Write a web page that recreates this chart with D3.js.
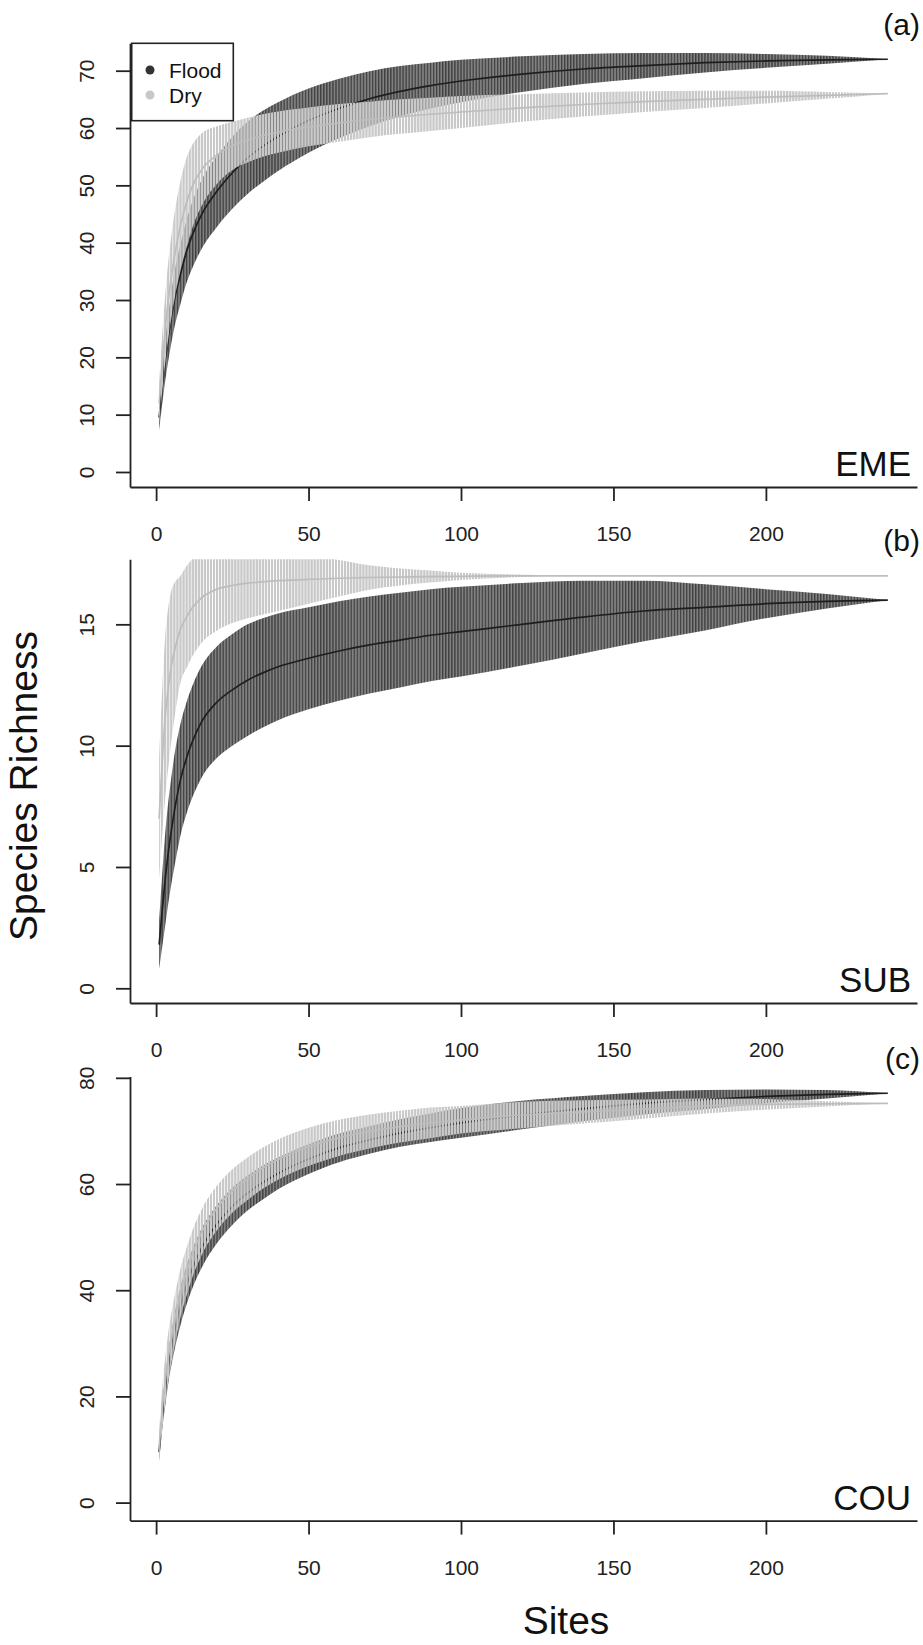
<!DOCTYPE html>
<html>
<head>
<meta charset="utf-8">
<script src="https://cdn.jsdelivr.net/npm/d3@7"></script>
<style>
  body { margin: 0; background: #fff; }
  svg { display: block; }
  text { font-family: "Liberation Sans", Arial, Helvetica, sans-serif; }
</style>
</head>
<body>
<div id="chart"></div>
<script>
const sites = [1, 2, 3, 4, 5, 6, 8, 10, 12, 15, 20, 25, 30, 35, 40, 50, 60, 70, 80, 90, 100, 120, 140, 160, 180, 200, 220, 240];

// (a) EME
const emeFloodMean = [9.5, 14.8, 19.5, 23.5, 27, 30, 34.5, 38.5, 41.5, 45, 49, 52.2, 54.8, 56.8, 58.5, 61.3, 63.4, 65.1, 66.4, 67.4, 68.2, 69.4, 70.3, 70.9, 71.4, 71.7, 71.9, 72];
const emeFloodSd = [2.2, 3, 3.6, 4.1, 4.5, 4.8, 5.2, 5.5, 5.8, 6, 6.2, 6.3, 6.3, 6.2, 6, 5.6, 5.2, 4.8, 4.4, 4, 3.7, 3.1, 2.6, 2.2, 1.7, 1.2, 0.7, 0];
const emeDryMean = [12, 19, 25, 30, 34, 37.5, 43, 47, 50, 52.8, 55.3, 56.9, 57.9, 58.7, 59.3, 60.2, 60.9, 61.5, 62, 62.4, 62.8, 63.5, 64.1, 64.6, 65, 65.4, 65.7, 66];
const emeDrySd = [3.5, 5, 6, 6.7, 7.2, 7.5, 7.8, 7.8, 7.2, 6.3, 5, 4.2, 3.9, 3.7, 3.6, 3.4, 3.3, 3.1, 3, 2.9, 2.8, 2.4, 2.1, 1.8, 1.5, 1.1, 0.6, 0];

// (b) SUB
const subFloodMean = [1.8, 3.2, 4.5, 5.6, 6.5, 7.3, 8.6, 9.5, 10.2, 11, 11.8, 12.3, 12.7, 13, 13.25, 13.6, 13.9, 14.15, 14.35, 14.55, 14.7, 15, 15.3, 15.55, 15.7, 15.85, 15.95, 16];
const subFloodSd = [1, 1.5, 1.9, 2.1, 2.2, 2.3, 2.3, 2.3, 2.3, 2.3, 2.3, 2.3, 2.3, 2.25, 2.2, 2.1, 2.05, 2, 1.95, 1.9, 1.85, 1.7, 1.5, 1.25, 0.95, 0.6, 0.3, 0];
const subDryMean = [7, 9.3, 11.2, 12.4, 13.3, 13.9, 14.8, 15.3, 15.7, 16.1, 16.45, 16.6, 16.7, 16.75, 16.8, 16.85, 16.9, 16.93, 16.95, 16.97, 16.98, 17, 17, 17, 17, 17, 17, 17];
const subDrySd = [2.5, 3, 3.3, 3.3, 3.1, 2.8, 2.2, 2.1, 2, 1.85, 1.7, 1.55, 1.45, 1.35, 1.25, 1, 0.75, 0.5, 0.35, 0.25, 0.15, 0.05, 0, 0, 0, 0, 0, 0];

// (c) COU
const couFloodMean = [9.5, 16, 21, 25.5, 29, 32, 37, 41, 44.2, 48, 52.5, 55.8, 58.3, 60.3, 62, 64.7, 66.8, 68.3, 69.6, 70.6, 71.5, 73, 74.2, 75.2, 75.9, 76.5, 76.9, 77.1];
const couFloodSd = [1.5, 2.2, 2.7, 3, 3.2, 3.4, 3.6, 3.7, 3.7, 3.7, 3.6, 3.5, 3.3, 3.2, 3, 2.8, 2.7, 2.6, 2.6, 2.7, 2.8, 2.7, 2.4, 2.1, 1.8, 1.3, 0.8, 0];
const couDryMean = [10.5, 17.5, 23, 27.5, 31, 34, 39.5, 43.5, 47, 51, 55.5, 58.7, 61, 63, 64.6, 67, 68.7, 69.9, 70.8, 71.5, 72.1, 73, 73.6, 74.1, 74.7, 75, 75.1, 75.2];
const couDrySd = [3, 4, 4.4, 4.6, 4.7, 4.7, 4.6, 4.5, 4.4, 4.3, 4.2, 4.1, 4, 3.9, 3.8, 3.6, 3.4, 3.2, 3, 2.9, 2.6, 2.5, 2.2, 1.8, 1.4, 1, 0.5, 0];

const xTicks = [0, 50, 100, 150, 200];
const emeTicks = [0, 10, 20, 30, 40, 50, 60, 70];
const subTicks = [0, 5, 10, 15];
const couTicks = [0, 20, 40, 60, 80];
const legendLabels = ['Flood', 'Dry'];

const W = 923, H = 1645;
const ink = '#222';

const svg = d3.select('#chart').append('svg')
  .attr('width', W)
  .attr('height', H);
svg.append('rect').attr('width', W).attr('height', H).attr('fill', '#fff');

const x = d3.scaleLinear().domain([-8.56, 249.56]).range([130, 917]);
const step = x(1) - x(0);
const defs = svg.append('defs');

// dense error bars, one every site -> striped fill
function stripes(id, bg, fg, w) {
  const p = defs.append('pattern')
    .attr('id', id)
    .attr('patternUnits', 'userSpaceOnUse')
    .attr('x', x(0) - w / 2).attr('y', 0)
    .attr('width', step).attr('height', H);
  if (bg) p.append('rect').attr('width', step).attr('height', H).attr('fill', bg);
  p.append('rect').attr('width', w).attr('height', H).attr('fill', fg);
}
stripes('floodBars', '#808080', '#404040', 1.3);
stripes('dryBars', null, '#c9c9c9', 2.3);

const panels = [
  { name: 'EME', tag: '(a)', top: 43.3, bottom: 487, domain: [-2.62, 74.78], ticks: emeTicks,
    flood: [emeFloodMean, emeFloodSd], dry: [emeDryMean, emeDrySd] },
  { name: 'SUB', tag: '(b)', top: 559.3, bottom: 1003, domain: [-0.606, 17.68], ticks: subTicks,
    flood: [subFloodMean, subFloodSd], dry: [subDryMean, subDrySd] },
  { name: 'COU', tag: '(c)', top: 1076.5, bottom: 1520.6, domain: [-3.39, 80.25], ticks: couTicks,
    flood: [couFloodMean, couFloodSd], dry: [couDryMean, couDrySd] }
];

panels.forEach((p, i) => {
  const y = d3.scaleLinear().domain(p.domain).range([p.bottom, p.top]);
  const g = svg.append('g');

  const clipId = 'clip' + i;
  defs.append('clipPath').attr('id', clipId).append('rect')
    .attr('x', x.range()[0]).attr('y', p.top)
    .attr('width', x.range()[1] - x.range()[0])
    .attr('height', p.bottom - p.top);
  const plot = g.append('g').attr('clip-path', `url(#${clipId})`);

  const area = d3.area()
    .x(d => x(d.s))
    .y0(d => y(d.m - d.sd))
    .y1(d => y(d.m + d.sd))
    .curve(d3.curveMonotoneX);
  const line = d3.line()
    .x(d => x(d.s))
    .y(d => y(d.m))
    .curve(d3.curveMonotoneX);

  const series = [
    { vals: p.flood, fill: 'url(#floodBars)', stroke: '#1e1e1e' },
    { vals: p.dry, fill: 'url(#dryBars)', stroke: '#bdbdbd' }
  ];
  series.forEach(s => {
    const rows = sites.map((site, k) => ({ s: site, m: s.vals[0][k], sd: s.vals[1][k] }));
    plot.append('path').datum(rows).attr('d', area).attr('fill', s.fill);
    plot.append('path').datum(rows).attr('d', line)
      .attr('fill', 'none').attr('stroke', s.stroke).attr('stroke-width', 1.7);
  });

  // y axis
  const ya = g.append('g')
    .attr('transform', `translate(${x.range()[0]},0)`)
    .call(d3.axisLeft(y).tickValues(p.ticks).tickSize(14).tickSizeOuter(0).tickFormat(d3.format('d')))
    .attr('font-size', 21);
  ya.select('.domain').attr('stroke', ink).attr('stroke-width', 1.8);
  ya.selectAll('.tick line').attr('stroke', ink).attr('stroke-width', 1.8);
  ya.selectAll('.tick text')
    .attr('x', null).attr('dy', null)
    .attr('fill', ink)
    .attr('text-anchor', 'middle')
    .attr('transform', 'translate(-36,0) rotate(-90)');

  // x axis
  const xa = g.append('g')
    .attr('transform', `translate(0,${p.bottom})`)
    .call(d3.axisBottom(x).tickValues(xTicks).tickSize(14).tickSizeOuter(0))
    .attr('font-size', 21);
  xa.select('.domain').attr('stroke', ink).attr('stroke-width', 1.8);
  xa.selectAll('.tick line').attr('stroke', ink).attr('stroke-width', 1.8);
  xa.selectAll('.tick text').attr('y', 54).attr('dy', null).attr('fill', ink);

  g.append('text')
    .attr('x', 911).attr('y', p.bottom - 11)
    .attr('text-anchor', 'end')
    .attr('font-size', 35)
    .attr('fill', '#111')
    .text(p.name);

  g.append('text')
    .attr('x', 920).attr('y', p.top - 8)
    .attr('text-anchor', 'end')
    .attr('font-size', 30)
    .attr('fill', '#111')
    .text(p.tag);
});

// legend in panel (a)
const leg = svg.append('g');
leg.append('rect')
  .attr('x', 131.7).attr('y', 43.3)
  .attr('width', 101.6).attr('height', 77.4)
  .attr('fill', '#fff').attr('stroke', ink).attr('stroke-width', 1.6);
const legColors = ['#333', '#c8c8c8'];
legendLabels.forEach((lab, k) => {
  const cy = 70 + k * 25;
  leg.append('circle').attr('cx', 150).attr('cy', cy).attr('r', 4.5).attr('fill', legColors[k]);
  leg.append('text')
    .attr('x', 169).attr('y', cy + 7.5)
    .attr('font-size', 21).attr('fill', '#111')
    .text(lab);
});

// shared axis titles
svg.append('text')
  .attr('transform', 'translate(37,786) rotate(-90)')
  .attr('text-anchor', 'middle')
  .attr('font-size', 39)
  .attr('fill', '#111')
  .text('Species Richness');

svg.append('text')
  .attr('x', 566).attr('y', 1634)
  .attr('text-anchor', 'middle')
  .attr('font-size', 39)
  .attr('fill', '#111')
  .text('Sites');
</script>
</body>
</html>
